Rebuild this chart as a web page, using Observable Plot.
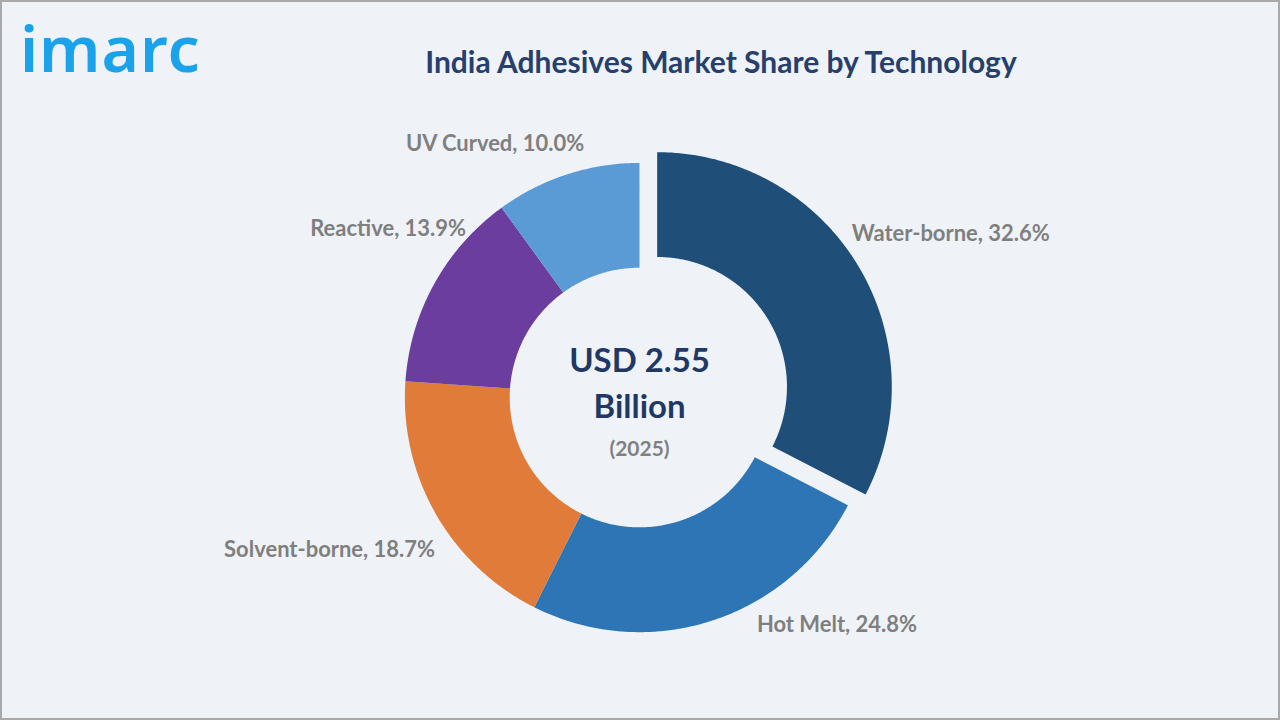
<!DOCTYPE html>
<html>
<head>
<meta charset="utf-8">
<script src="https://cdn.jsdelivr.net/npm/d3@7"></script>
<script src="https://cdn.jsdelivr.net/npm/@observablehq/plot@0.6"></script>
<style>
  html, body { margin: 0; padding: 0; background: #eff3f8; }
  #frame { position: relative; width: 1280px; height: 720px; box-sizing: border-box;
           border: 2px solid #a9a9a9; background: #eff3f8; overflow: hidden; }
  #logo { position: absolute; left: 18px; top: 4px; font-family: "Noto Sans", sans-serif;
          font-weight: 600; font-size: 64px; line-height: 1.3; color: #1aa3ea; letter-spacing: 1px; }
  #title { position: absolute; left: 0; width: 1438px; top: 41px; text-align: center;
           font-family: Lato, sans-serif; font-weight: 700; font-size: 30px; color: #273f6c; }
  #chart { position: absolute; left: -2px; top: 98px; }
</style>
</head>
<body>
<div id="frame">
  <div id="logo">imarc</div>
  <div id="title">India Adhesives Market Share by Technology</div>
  <div id="chart"></div>
</div>
<script>
// ---- data ----
const categories = ["Water-borne", "Hot Melt", "Solvent-borne", "Reactive", "UV Curved"];
const shares = [32.6, 24.8, 18.7, 13.9, 10.0];
const totalLabel = ["USD 2.55", "Billion"];
const yearLabel = "(2025)";

// ---- styles / layout ----
const colors = ["#1f4e79", "#2e75b6", "#e17b3a", "#6a3d9e", "#5b9bd5"];
const exploded = "Water-borne";
const W = 1280, H = 620;
const cy = 297.5;            // center from top of svg
const R = 235, r0 = 130, explodeDist = 20.7;
// label placement (polar: degrees clockwise from top, radius)
const labelAngle = [62.3, 139.1, 243.8, 303.8, 330.3];
const labelRadius = [352, 302, 346, 303, 292];

// ---- geometry from data ----
const total = d3.sum(shares);
let cum = 0;
const slices = categories.map((c, i) => {
  const a0 = cum / total * 2 * Math.PI;
  cum += shares[i];
  const a1 = cum / total * 2 * Math.PI;
  return {cat: c, value: shares[i], a0, a1, mid: (a0 + a1) / 2};
});
const pts = [];
for (const s of slices) {
  const off = s.cat === exploded ? explodeDist : 0;
  const ox = off * Math.sin(s.mid), oy = off * Math.cos(s.mid);
  const n = Math.max(4, Math.ceil((s.a1 - s.a0) / (Math.PI / 360)));
  for (let k = 0; k <= n; k++) {
    const a = s.a0 + (s.a1 - s.a0) * k / n;
    pts.push({cat: s.cat, x: ox + R * Math.sin(a), y: oy + R * Math.cos(a)});
  }
  for (let k = n; k >= 0; k--) {
    const a = s.a0 + (s.a1 - s.a0) * k / n;
    pts.push({cat: s.cat, x: ox + r0 * Math.sin(a), y: oy + r0 * Math.cos(a)});
  }
}
const labels = slices.map((s, i) => {
  const a = labelAngle[i] * Math.PI / 180;
  return {text: `${s.cat}, ${s.value.toFixed(1)}%`, x: labelRadius[i] * Math.sin(a), y: labelRadius[i] * Math.cos(a)};
});

const chart = Plot.plot({
  width: W, height: H,
  margin: 0,
  style: {background: "transparent", overflow: "visible"},
  x: {domain: [-W / 2, W / 2], axis: null},
  y: {domain: [-(H - cy), cy], axis: null},
  color: {domain: categories, range: colors},
  marks: [
    Plot.line(pts, {x: "x", y: "y", z: "cat", fill: "cat", stroke: "none", curve: "linear-closed"}),
    Plot.text(labels, {x: "x", y: "y", text: "text", fill: "#7f7f7f", fontSize: 22, fontWeight: 700,
                        fontFamily: "Lato, sans-serif", textAnchor: "middle"}),
    Plot.text([totalLabel.join("\n")], {x: () => 0, y: () => 0, text: d => d, fill: "#1f3864",
                        fontSize: 33, fontWeight: 700, fontFamily: "Lato, sans-serif",
                        lineHeight: 1.37, dy: -17}),
    Plot.text([yearLabel], {x: () => 0, y: () => 0, text: d => d, fill: "#808080",
                        fontSize: 21, fontWeight: 700, fontFamily: "Lato, sans-serif", dy: 52})
  ]
});
document.getElementById("chart").appendChild(chart);
</script>
</body>
</html>
